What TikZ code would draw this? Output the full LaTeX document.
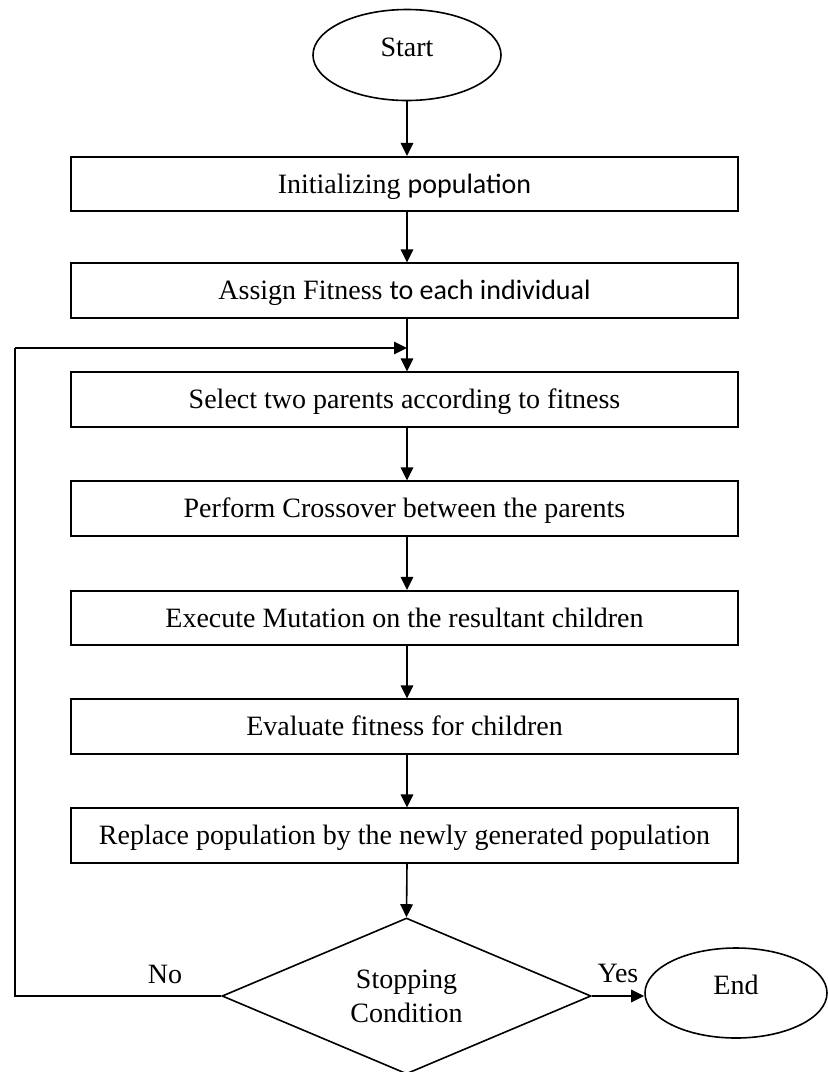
\documentclass[tikz,border=0pt]{standalone}
\usepackage{fontspec}
\setmainfont{Liberation Serif}
\newfontfamily\calibrifont{Carlito}
\usetikzlibrary{arrows.meta,shapes.geometric}
\begin{document}
\begin{tikzpicture}[x=1pt,y=-1pt,
  every node/.style={font=\fontsize{28}{34}\selectfont},
  stepbox/.style={draw, line width=1.6pt, minimum width=667pt, minimum height=54.5pt,
                  inner sep=0pt, text height=18.5pt, text depth=0pt},
  term/.style={draw, ellipse, line width=1.6pt, inner sep=0pt,
               text height=18.5pt, text depth=16.5pt},
  decision/.style={draw, diamond, line width=1.6pt, inner sep=0pt, aspect=2.365,
                   minimum width=369pt, minimum height=156pt, align=center},
  lbl/.style={inner sep=0pt, text height=18.5pt, text depth=0pt},
  arr/.style={-{Triangle[length=13pt,width=12.5pt]}, line width=1.6pt},
  link/.style={line width=1.6pt}]
\useasboundingbox (0,0) rectangle (828,1072);

% terminals
\node[term, minimum width=188pt, minimum height=91pt] (start) at (407,55) {Start};
\node[term, minimum width=182pt, minimum height=90pt] (end) at (736,993) {End};

% process steps
\node[stepbox] (init) at (404.5,184) {Initializing {\calibrifont population}};
\node[stepbox] (fit)  at (404.5,290.5) {Assign Fitness {\calibrifont to each individual}};
\node[stepbox] (sel)  at (404.5,399.5) {Select two parents according to fitness};
\node[stepbox] (cross) at (404.5,508.5) {Perform Crossover between the parents};
\node[stepbox] (mut)  at (404.5,618) {Execute Mutation on the resultant children};
\node[stepbox] (eval) at (404.5,726.5) {Evaluate fitness for children};
\node[stepbox] (repl) at (404.5,835.5) {Replace population by the newly generated population};

% decision
\node[decision] (stop) at (406.5,996) {Stopping\\Condition};

% main spine of the flow
\coordinate (spine) at (407,0);
\coordinate (loopin) at (407,348);
\coordinate (loopcorner) at (15,348);

\draw[arr] (start.south -| spine) -- (init.north -| spine);
\draw[arr] (init.south -| spine) -- (fit.north -| spine);
\draw[arr] (fit.south -| spine) -- (sel.north -| spine);
\draw[arr] (sel.south -| spine) -- (cross.north -| spine);
\draw[arr] (cross.south -| spine) -- (mut.north -| spine);
\draw[arr] (mut.south -| spine) -- (eval.north -| spine);
\draw[arr] (eval.south -| spine) -- (repl.north -| spine);
\draw[arr] (repl.south -| spine) -- (stop.north);

% loop back when the condition fails
\draw[link] (stop.west) -| (loopcorner);
\draw[arr] (loopcorner) -- (loopin);

% exit when the condition holds
\draw[arr] (stop.east) -- (stop.east -| end.west);

% branch labels
\node[lbl] (no) at (165,974) {No};
\node[lbl] (yes) at (618,973) {Yes};
\end{tikzpicture}
\end{document}
